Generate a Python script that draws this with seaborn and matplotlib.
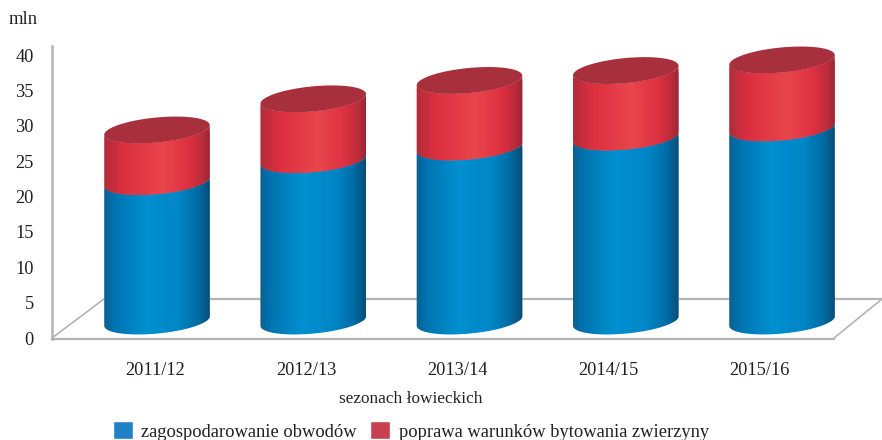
import numpy as np
import pandas as pd
import matplotlib
matplotlib.use("Agg")
import matplotlib.pyplot as plt
import seaborn as sns
from matplotlib.colors import LinearSegmentedColormap
from matplotlib.patches import Patch, Polygon

# values (mln)
seasons = ["2011/12", "2012/13", "2013/14", "2014/15", "2015/16"]
zagospodarowanie = [19.7, 22.8, 24.6, 26.0, 27.3]
poprawa = [7.3, 8.6, 9.4, 9.4, 9.6]
y_ticks = [0, 5, 10, 15, 20, 25, 30, 35, 40]
legend_labels = ["zagospodarowanie obwodów", "poprawa warunków bytowania zwierzyny"]

df = pd.DataFrame({"season": seasons, "blue": zagospodarowanie, "red": poprawa})
df["total"] = df["blue"] + df["red"]

sns.set_theme(style="white")
plt.rcParams["font.family"] = ["Liberation Serif", "DejaVu Serif"]

W, H = 882, 440
fig = plt.figure(figsize=(W / 100, H / 100), dpi=100)
ax = fig.add_axes([52 / W, 1 - 339 / H, (W - 52) / W, 293 / H])

# axes scale, in pixels per unit
px_y = 7.075
px_x = 156.25
depth = 2.4  # cylinders stand in the middle of the 3D floor

sns.barplot(data=df, x="season", y="total", color="#e0323f", width=0.68, bottom=depth, ax=ax, saturation=1)
sns.barplot(data=df, x="season", y="blue", color="#0088c8", width=0.68, bottom=depth, ax=ax, saturation=1)

x_min, x_max = -105 / px_x, 725 / px_x
y_min, y_max = -1 / px_y, 292 / px_y
ax.set_xlim(x_min, x_max)
ax.set_ylim(y_min, y_max)

blue_map = LinearSegmentedColormap.from_list("b", [(0, "#0d5f8f"), (0.1, "#0074b0"), (0.4, "#0090d0"),
                                                   (0.7, "#0086c6"), (0.88, "#006ca4"), (1, "#0a4a74")])
red_map = LinearSegmentedColormap.from_list("r", [(0, "#b02c3a"), (0.18, "#dc2f40"), (0.55, "#e9464c"),
                                                  (0.8, "#dd3040"), (0.93, "#b82c3a"), (1, "#952433")])
grad = np.linspace(0, 1, 256).reshape(1, -1)

a, b, tilt = 53.0, 12.5, np.radians(5.5)


def arc(cx, level, t):
    # tilted ellipse in pixels, turned back into data units
    dx = a * np.cos(t) * np.cos(tilt) - b * np.sin(t) * np.sin(tilt)
    dy = a * np.cos(t) * np.sin(tilt) + b * np.sin(t) * np.cos(tilt)
    return np.column_stack([cx + dx / px_x, level + dy / px_y])


lower = np.linspace(np.pi, 2 * np.pi, 60)
full = np.linspace(0, 2 * np.pi, 120)

bars = ax.patches
n = len(seasons)
for i in range(n):
    red_bar, blue_bar = bars[i], bars[i + n]
    cx = blue_bar.get_x() + blue_bar.get_width() / 2
    half = blue_bar.get_width() / 2
    y0 = blue_bar.get_y()
    y1 = y0 + blue_bar.get_height()
    y2 = red_bar.get_y() + red_bar.get_height()

    for bar, start, stop, cmap in [(blue_bar, y0, y1, blue_map), (red_bar, y1, y2, red_map)]:
        outline = np.vstack([arc(cx, start, lower), arc(cx, stop, lower)[::-1]])
        shape = Polygon(outline, closed=True, transform=ax.transData)
        bar.set_clip_path(shape)
        im = ax.imshow(grad, cmap=cmap, aspect="auto", zorder=3,
                       extent=[cx - half, cx + half, start - 3, stop + 3])
        im.set_clip_path(shape)

    ax.add_patch(Polygon(arc(cx, y2, full), closed=True, facecolor="#a82f3c", edgecolor="none", zorder=4))

ax.set_xlim(x_min, x_max)
ax.set_ylim(y_min, y_max)

# 3D floor
grey = "#b4b4b4"
floor_y = 39 / px_y
front_right = 782 / px_x
ax.plot([x_min, x_min + 52 / px_x], [0, floor_y], color=grey, lw=1.2, zorder=1, clip_on=False)
ax.plot([x_min + 52 / px_x, x_max], [floor_y, floor_y], color=grey, lw=1.6, zorder=1, clip_on=False)
ax.plot([x_min + front_right, x_max], [0, floor_y], color=grey, lw=1.2, zorder=1, clip_on=False)

sns.despine(ax=ax, top=True, right=True)
ax.spines["left"].set_color(grey)
ax.spines["left"].set_linewidth(1.8)
ax.spines["bottom"].set_color(grey)
ax.spines["bottom"].set_linewidth(1.6)
ax.spines["bottom"].set_bounds(x_min, x_min + front_right)

ax.set_yticks(y_ticks)
ax.set_yticklabels(y_ticks)
# labels sit on the front edge, so they are spaced tighter than the cylinders
ax.set_xticks([(151 * i - 2) / px_x for i in range(n)])
ax.set_xticklabels(seasons)
ax.tick_params(axis="both", length=0, labelsize=13.2, colors="#231f20")
ax.tick_params(axis="x", pad=16.5)
ax.tick_params(axis="y", pad=13)
ax.set_xlabel("")
ax.set_ylabel("")

fig.text(9 / W, 1 - 20 / H, "mln", fontsize=13.4, color="#231f20", va="center")
fig.text(411 / W, 1 - 399 / H, "sezonach łowieckich", fontsize=12.4, color="#231f20", ha="center", va="center")

handles = [Patch(facecolor="#1f82c4", label=legend_labels[0]), Patch(facecolor="#c8404f", label=legend_labels[1])]
fig.legend(handles=handles, ncol=2, frameon=False, loc="center left", bbox_to_anchor=(113 / W, 1 - 431 / H),
           fontsize=13.3, labelcolor="#231f20", handlelength=1.08, handleheight=1.08, handletextpad=0.46,
           columnspacing=0.72, borderpad=0, borderaxespad=0)

fig.savefig("out.png", dpi=100)
